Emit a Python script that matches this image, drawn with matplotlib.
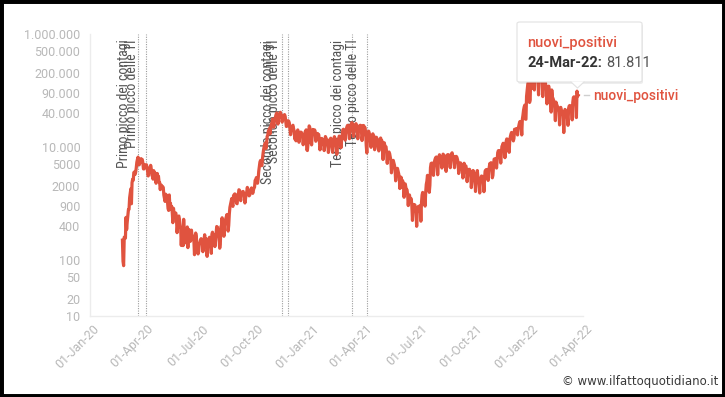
import matplotlib
matplotlib.use("Agg")
import matplotlib.pyplot as plt
import matplotlib.transforms as mtransforms
from matplotlib import font_manager
from matplotlib.patches import FancyBboxPatch, Polygon, Rectangle
from matplotlib.ticker import FixedLocator, NullLocator
import pandas as pd

# ---------------- data (daily new positives, Italy) ----------------
start_2020 = "2020-02-24"
cases_2020 = [
    221, 93, 78, 250, 238, 240, 561,
    342, 466, 587, 769, 778, 1247, 1492,
    1797, 977, 2313, 2651, 2547, 3497, 3590,
    3233, 3526, 4207, 5322, 5986, 6557, 5560,
    4789, 5249, 5210, 6153, 5959, 5974, 5217,
    4050, 4053, 4782, 4668, 4585, 4805, 4316,
    3599, 3039, 3836, 4204, 3951, 4694, 4092,
    3153, 2972, 2667, 3786, 3493, 3491, 3047,
    2256, 2729, 3370, 2646, 3021, 2357, 2324,
    1739, 2091, 2086, 1872, 1965, 1900, 1389,
    1221, 1075, 1444, 1401, 1327, 1083, 802,
    744, 1402, 888, 992, 789, 875, 675,
    451, 813, 665, 642, 652, 669, 531,
    300, 397, 584, 593, 516, 416, 355,
    178, 318, 321, 177, 518, 270, 197,
    280, 283, 202, 379, 163, 346, 338,
    301, 210, 329, 333, 251, 262, 224,
    218, 122, 190, 296, 259, 175, 174,
    126, 142, 187, 201, 223, 235, 192,
    208, 138, 193, 229, 276, 188, 234,
    169, 114, 162, 230, 233, 249, 219,
    218, 129, 282, 306, 252, 275, 255,
    170, 212, 289, 386, 379, 295, 347,
    238, 159, 190, 384, 402, 552, 347,
    463, 259, 412, 481, 523, 574, 629,
    479, 320, 403, 642, 845, 947, 1071,
    1210, 953, 878, 1366, 1411, 1462, 1444,
    1365, 996, 978, 1326, 1397, 1733, 1695,
    1297, 1108, 1370, 1434, 1597, 1616, 1501,
    1458, 1008, 1229, 1452, 1585, 1907, 1638,
    1587, 1350, 1391, 1640, 1786, 1869, 1766,
    1494, 1648, 1851, 1912, 2548, 2499, 2844,
    2578, 2257, 2677, 3678, 4458, 5372, 5724,
    5456, 4619, 5901, 7332, 8804, 10010, 10925,
    11705, 9338, 10874, 15199, 16079, 19143, 19644,
    21273, 17012, 21994, 24991, 26831, 31084, 29907,
    22253, 28244, 30550, 34505, 37809, 39811, 32616,
    25271, 35098, 32961, 37978, 40902, 37255, 33979,
    27354, 32191, 34283, 36176, 37242, 34767, 28337,
    22930, 23232, 25853, 29003, 28352, 26323, 20648,
    16377, 19350, 20709, 23225, 24099, 21052, 18887,
    13720, 14842, 12756, 16999, 18727, 19903, 17938,
    12030, 14844, 17572, 18236, 17992, 16308, 15104,
    10872, 13318, 14522, 18040, 19037, 19978, 8913,
    8585, 11212, 16202, 23477,
]

start_2021 = "2021-01-01"
cases_2021 = [
    22211, 11831, 14245,
    10800, 15378, 20331, 18020, 17533, 19978, 18627,
    12532, 14242, 15774, 17246, 16146, 16310, 12545,
    8825, 10497, 13571, 14078, 13633, 13331, 11629,
    8562, 10593, 15204, 14372, 13574, 12715, 11252,
    7925, 9660, 13189, 13659, 14218, 13442, 11641,
    7970, 10630, 12956, 15146, 13908, 13532, 11068,
    7351, 10386, 12074, 13762, 15479, 14931, 13452,
    9630, 13314, 16424, 19886, 20499, 18916, 17455,
    13114, 17083, 20884, 22865, 24036, 23641, 20765,
    13902, 19749, 22409, 25673, 26824, 26062, 21315,
    15267, 20396, 23059, 24935, 25735, 23832, 20159,
    13846, 18765, 21267, 23696, 24076, 23839, 19611,
    12916, 16017, 23904, 23649, 21261, 21932, 18025,
    10680, 7767, 13708, 17221, 18938, 17567, 15746,
    12694, 9789, 13447, 16168, 16974, 15943, 15370,
    8864, 12074, 13844, 14761, 13817, 13158, 9789,
    8444, 10404, 13385, 14320, 12965, 12965, 9148,
    5948, 9116, 11807, 10554, 10176, 9984, 7852,
    5080, 6946, 7852, 8085, 7567, 6659, 5753,
    3455, 4452, 5506, 5741, 5218, 4717, 4147,
    2490, 3224, 3937, 4147, 3738, 3351, 2949,
    1820, 2483, 2897, 1896, 2557, 2436, 2275,
    1273, 1896, 2199, 1901, 1732, 1723, 1390,
    907, 1255, 1400, 1197, 1147, 1197, 881,
    495, 835, 951, 927, 932, 835, 678,
    389, 679, 776, 882, 794, 808, 907,
    480, 1010, 1394, 1553, 1390, 1400, 1391,
    888, 1552, 2153, 2455, 3121, 2456, 2327,
    1558, 2072, 4259, 5057, 5143, 5140, 4794,
    3117, 4522, 5696, 6171, 6513, 6599, 5321,
    3190, 4845, 6596, 7230, 6599, 6619, 5676,
    4206, 5512, 7409, 7162, 6955, 5701, 4456,
    3662, 4456, 7162, 7270, 7224, 6860, 6494,
    4258, 5559, 7548, 7826, 6933, 6761, 6503,
    4257, 5498, 6735, 6761, 6503, 5941, 5193,
    3361, 3986, 5117, 5193, 4720, 4686, 4408,
    2800, 3377, 5115, 4061, 4552, 4578, 3970,
    2407, 3235, 3970, 3797, 3992, 3600, 3261,
    1888, 2494, 3212, 3804, 3405, 3312, 2770,
    1612, 2466, 3235, 3794, 2906, 2748, 2278,
    1516, 2494, 2771, 3038, 2668, 2983, 2456,
    1597, 2697, 3702, 3882, 3650, 3963, 3248,
    2535, 3686, 4454, 5092, 4599, 5221, 4533,
    2818, 3117, 4600, 6031, 6134, 5822, 6078,
    4197, 5885, 7891, 8516, 8569, 8544, 7639,
    5144, 7698, 10172, 10638, 11555, 10544, 9709,
    6404, 8352, 12448, 13764, 13686, 12877, 12932,
    7975, 12764, 15085, 16806, 17959, 17010, 15021,
    12712, 14074, 20497, 19000, 20003, 21042, 19215,
    16213, 20677, 23195, 26109, 28064, 24259, 24259,
    16213, 30798, 36293, 44595, 50599, 54762, 31000,
    30810, 78313, 98030, 126888, 144243,
]

start_2022 = "2022-01-01"
cases_2022 = [
    141262, 61046,
    68052, 170844, 189109, 219441, 108304, 197552, 155659,
    101762, 220532, 196224, 184615, 186253, 180426, 149512,
    83403, 228179, 188797, 179106, 192320, 171263, 138860,
    77696, 186740, 167206, 155697, 143898, 124633, 97000,
    57715, 101762, 112691, 118994, 99522, 77029, 66970,
    41247, 101864, 75861, 72333, 66970, 60262, 47693,
    29077, 62000, 57000, 53000, 51000, 47000, 42000,
    24408, 48000, 50000, 45000, 42000, 39000, 35000,
    17900, 36000, 46000, 43000, 41000, 37000, 34000,
    24000, 48000, 53000, 54000, 53000, 51000, 47000,
    30000, 62000, 75000, 77000, 76000, 72000, 60000,
    33000, 97000, 79000, 81811,
]

series_name = "nuovi_positivi"

y_ticks = [10, 20, 50, 100, 400, 900, 2000, 5000, 10000, 40000, 90000,
           200000, 500000, 1000000]
y_tick_labels = ["10", "20", "50", "100", "400", "900", "2000", "5000",
                 "10.000", "40.000", "90.000", "200.000", "500.000",
                 "1.000.000"]
x_tick_dates = ["2020-01-01", "2020-04-01", "2020-07-01", "2020-10-01",
                "2021-01-01", "2021-04-01", "2021-07-01", "2021-10-01",
                "2022-01-01", "2022-04-01"]
x_tick_labels = ["01-Jan-20", "01-Apr-20", "01-Jul-20", "01-Oct-20",
                 "01-Jan-21", "01-Apr-21", "01-Jul-21", "01-Oct-21",
                 "01-Jan-22", "01-Apr-22"]

event_dates = ["2020-03-21", "2020-04-03", "2020-11-16", "2020-11-26",
               "2021-03-12", "2021-04-06"]
event_labels = ["Primo picco dei contagi", "Primo picco delle TI",
                "Secondo picco dei contagi", "Secondo picco delle TI",
                "Terzo picco dei contagi", "Terzo picco delle TI"]

tooltip_date = "24-Mar-22:"
tooltip_value = "81.811"

# ---------------- fonts ----------------
available = {f.name for f in font_manager.fontManager.ttflist}


def pick(*names):
    for n in names:
        if n in available:
            return n
    return "DejaVu Sans"


NARROW = pick("Liberation Sans Narrow", "Roboto Condensed", "Liberation Sans")
TICKF = pick("Roboto", "Lato", "Open Sans")
UIF = pick("Roboto", "Inter", "Lato")

# ---------------- build series ----------------
frames = []
for st, vals in ((start_2020, cases_2020), (start_2021, cases_2021),
                 (start_2022, cases_2022)):
    frames.append(pd.Series(vals, index=pd.date_range(st, periods=len(vals), freq="D")))
series = pd.concat(frames)

W, H = 725, 397
fig = plt.figure(figsize=(W / 100, H / 100), dpi=100)
fig.patch.set_facecolor("white")


def fx(px):
    return px / W


def fy(py):
    return 1 - py / H


ax = fig.add_axes([fx(90), fy(316), fx(583) - fx(90), fy(34) - fy(316)])
ax.set_facecolor("white")
line_color = "#e0533f"

ax.plot(series.index, series.values, color=line_color, lw=2.3, zorder=4,
        solid_joinstyle="round")

ax.set_yscale("log")
ax.set_ylim(10, 1e6)
ax.set_xlim(pd.Timestamp("2020-01-01"), pd.Timestamp("2022-04-01"))

ax.yaxis.set_major_locator(FixedLocator(y_ticks))
ax.yaxis.set_minor_locator(NullLocator())
ax.set_yticklabels(y_tick_labels)
ax.set_xticks(pd.to_datetime(x_tick_dates))
ax.set_xticklabels(x_tick_labels)

for s in ("top", "right"):
    ax.spines[s].set_visible(False)
for s in ("left", "bottom"):
    ax.spines[s].set_color("#ececec")
    ax.spines[s].set_linewidth(1.0)

ax.tick_params(axis="both", length=0, labelcolor="#b8b8b8", labelsize=9)
ax.tick_params(axis="y", pad=7)
ax.tick_params(axis="x", pad=8)
for lab in ax.get_yticklabels():
    lab.set_fontfamily(TICKF)
offset = mtransforms.ScaledTranslation(5 / 72, 0, fig.dpi_scale_trans)
for lab in ax.get_xticklabels():
    lab.set_fontfamily(TICKF)
    lab.set_rotation(45)
    lab.set_ha("right")
    lab.set_va("center")
    lab.set_rotation_mode("anchor")
    lab.set_transform(lab.get_transform() + offset)

# event lines and labels
blend = mtransforms.blended_transform_factory(ax.transData, ax.transAxes)
txt_off = mtransforms.ScaledTranslation(-5 / 72, 0, fig.dpi_scale_trans)
for d, lbl in zip(event_dates, event_labels):
    dt = pd.Timestamp(d)
    ax.axvline(dt, color="#9c9c9c", lw=0.8, ls=(0, (1, 1.2)), zorder=1)
    ax.text(dt, 0.98, lbl, transform=blend + txt_off, rotation=90,
            ha="right", va="top", fontsize=10, family=NARROW,
            color="#555555", zorder=2)

# end-of-line label
fig.add_artist(plt.Line2D([fx(584), fx(589)], [fy(95), fy(95)],
                          color="#cfcfcf", lw=1, transform=fig.transFigure))
fig.text(fx(593), fy(96), series_name, ha="left", va="center",
         fontsize=10, color=line_color, family=UIF, fontweight="medium")

# tooltip
shadow = FancyBboxPatch((fx(518), fy(84)), fx(642) - fx(517), fy(22) - fy(82),
                        boxstyle="round,pad=0,rounding_size=0.004",
                        transform=fig.transFigure, facecolor="#000000",
                        alpha=0.07, edgecolor="none", zorder=9)
fig.add_artist(shadow)
box = FancyBboxPatch((fx(517), fy(82)), fx(642) - fx(517), fy(22) - fy(82),
                     boxstyle="round,pad=0,rounding_size=0.004",
                     transform=fig.transFigure, facecolor="white",
                     edgecolor="#e2e2e2", lw=0.8, zorder=10)
fig.add_artist(box)
pointer = Polygon([[fx(571), fy(81.5)], [fx(584), fy(81.5)], [fx(577.5), fy(88)]],
                  closed=True, transform=fig.transFigure, facecolor="white",
                  edgecolor="none", zorder=11)
fig.add_artist(pointer)
fig.add_artist(plt.Line2D([fx(571), fx(577.5), fx(584)], [fy(82), fy(88), fy(82)],
                          color="#e2e2e2", lw=0.8, transform=fig.transFigure,
                          zorder=11))
fig.text(fx(527), fy(43), series_name, ha="left", va="center", fontsize=10.5,
         color=line_color, family=UIF, fontweight="medium", zorder=12)
t1 = fig.text(fx(527), fy(63), tooltip_date, ha="left", va="center",
              fontsize=10.5, color="#333333", family=UIF, fontweight="bold",
              zorder=12)
fig.canvas.draw()
bb = t1.get_window_extent()
fig.text((bb.x1 + 4) / W, fy(63), tooltip_value, ha="left", va="center",
         fontsize=10.5, color="#555555", family=UIF, zorder=12)

# watermark
fig.text(fx(718), fy(382), "\u00a9 www.ilfattoquotidiano.it", ha="right",
         va="center", fontsize=8.5, color="#3a3a3a", family="DejaVu Sans")

# outer black frame
fig.add_artist(Rectangle((0, 0), 1, 1, transform=fig.transFigure, fill=False,
                         edgecolor="black", lw=5, zorder=20))

fig.savefig("out.png", dpi=100)
